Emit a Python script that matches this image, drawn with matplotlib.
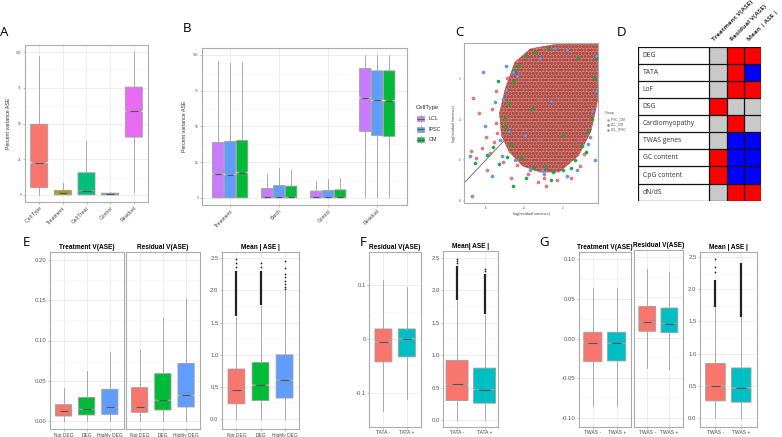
import matplotlib
matplotlib.use("Agg")
import matplotlib.pyplot as plt
from matplotlib.patches import Polygon, Rectangle

W, H = 782, 437
plt.rcParams['font.family'] = ['Liberation Sans', 'DejaVu Sans']

# ---------------- data ----------------
# A: percent variance explained per component
A_cats = ['Cell Type', 'Treatment', 'Cell:Treat', 'Control', 'Residual']
A_q1 = [5, 0, 0, 0, 40.5]
A_med = [22.5, 1, 3, 0.6, 58.5]
A_q3 = [49.5, 3.2, 15.5, 1.2, 75.5]
A_lo = [0, 0, 0, 0, 2]
A_hi = [97.5, 8, 38, 2, 100]
A_colors = ['#F8766D', '#A3A500', '#00BF7D', '#00B0F6', '#E76BF3']

# B: per cell type (rows LCL, IPSC, CM)
B_cats = ['Treatment', 'Batch', 'Control', 'Residual']
B_cells = ['LCL', 'IPSC', 'CM']
B_q1 = [[0, 0, 0, 46.5], [0, 0, 0, 43.5], [0, 0, 0, 43]]
B_med = [[16.7, 0.5, 0.4, 70], [16.3, 0.5, 0.4, 68.3], [17.7, 0.5, 0.4, 68]]
B_q3 = [[38.6, 6.5, 4.7, 90.5], [39.5, 8.6, 5.1, 88.8], [40.2, 8.2, 5.6, 88.8]]
B_lo = [[0, 0, 0, 0.7], [0, 0, 0, 0.7], [0, 0, 0, 0.7]]
B_hi = [[95.5, 16.5, 12, 100], [94.2, 21.2, 13, 100], [95.3, 19.8, 14, 100]]
B_colors = ['#C77CFF', '#619CFF', '#00BA38']

# C: log residual variance scatter; dense core outline + sparse points
C_core_x = [-4.5, -3.7, -2.2, -0.2, -0.2, -0.55, -1.2, -2.2, -3.2, -4.1, -4.8, -5.2, -5.3, -5.0]
C_core_y = [-1.2, -0.55, -0.3, -0.3, -3.1, -4.6, -5.8, -6.6, -6.6, -6.3, -5.6, -4.8, -3.7, -2.5]
C_groups = ['IPSC_CM', 'LCL_CM', 'LCL_IPSC']
C_colors = ['#F8766D', '#00BA38', '#619CFF']
C_red_x = [-6.69, -6.36, -6.79, -6.22, -5.48, -5.71, -4.38, -2.86, -3.81, -4.41, -5.97, -5.45, -5.79,
           -1.6, -0.9, -2.3, -3.3, -5.1, -4.7, -6.0, -3.0, -1.1, -5.5, -4.9, -5.6, -6.5]
C_red_y = [-2.98, -3.72, -5.55, -5.40, -2.62, -3.52, -1.15, -7.26, -6.69, -6.25, -6.50, -4.70, -5.68,
           -6.9, -5.7, -7.0, -7.1, -6.1, -6.9, -4.9, -6.9, -6.3, -4.2, -2.0, -5.1, -5.9]
C_green_x = [-3.43, -5.36, -6.57, -5.97, -4.62, -4.93, -2.86, -5.62, -5.02, -4.84,
             -1.0, -0.7, -1.4, -0.4, -2.0, -3.9, -4.5, -2.6, -0.3, -5.3,
             -4.6, -4.3, -3.9, -5.0, -4.7, -4.2, -3.5, -2.5, -1.6, -0.8, -0.5, -1.2, -2.8, -3.6, -2.0]
C_green_y = [-0.70, -2.13, -6.17, -5.76, -7.26, -5.84, -6.33, -5.35, -4.37, -3.23,
             -5.3, -4.6, -6.0, -2.0, -6.5, -6.9, -1.6, -7.0, -1.0, -6.2,
             -2.2, -1.4, -0.9, -4.0, -5.2, -5.9, -6.4, -6.6, -6.4, -5.6, -4.0, -1.0, -0.5, -3.5, -4.8]
C_blue_x = [-6.14, -4.96, -5.52, -6.05, -6.83, -5.71, -6.71, -3.72, -3.11, -5.17, -4.59, -5.27, -4.94,
            -0.35, -0.7, -0.3, -1.8, -2.4, -0.5,
            -4.4, -5.1, -4.8, -4.5, -3.0, -1.3, -0.6, -0.3, -1.8, -3.2, -2.6, -4.0]
C_blue_y = [-1.71, -1.40, -3.15, -4.32, -5.81, -6.77, -7.77, -6.50, -6.50, -5.81, -1.68, -5.02, -2.57,
            -6.0, -5.2, -0.9, -6.8, -0.5, -3.6,
            -1.9, -3.0, -4.6, -6.0, -6.7, -6.5, -4.9, -2.6, -0.6, -1.0, -3.1, -4.8]

# D: direction of association (1 = positive / red, -1 = negative / blue, 0 = n.s.)
D_rows = ['DEG', 'TATA', 'LoF', 'DSG', 'Cardiomyopathy', 'TWAS genes', 'GC content', 'CpG content', 'dN/dS']
D_cols = ['Treatment V(ASE)', 'Residual V(ASE)', 'Mean | ASE |']
D_vals = [[0, 1, 1], [0, 1, -1], [0, 1, 1], [1, 0, 0], [0, 1, 0],
          [0, -1, -1], [1, -1, -1], [1, -1, -1], [0, 1, 1]]

# E: DEG classes
E_cats = ['Not DEG', 'DEG', 'Highly DEG']
E_colors = ['#F8766D', '#00BA38', '#619CFF']
E_trt_q1 = [0.0062, 0.0075, 0.0083]
E_trt_med = [0.012, 0.0145, 0.017]
E_trt_q3 = [0.0203, 0.0294, 0.0394]
E_trt_hi = [0.0406, 0.062, 0.0853]
E_res_q1 = [0.0108, 0.0137, 0.0174]
E_res_med = [0.0178, 0.0257, 0.0319]
E_res_q3 = [0.0414, 0.0588, 0.0716]
E_res_hi = [0.088, 0.1275, 0.153]
E_mean_q1 = [0.24, 0.29, 0.33]
E_mean_med = [0.45, 0.53, 0.61]
E_mean_q3 = [0.78, 0.88, 1.0]
E_mean_hi = [1.59, 1.76, 1.99]
E_out_lo = [1.6, 1.77, 2.0]
E_out_hi = [2.3, 2.3, 2.0]
E_out_dots = [[2.36, 2.42, 2.49], [2.36, 2.42], [2.02, 2.06, 2.10, 2.15, 2.21, 2.25, 2.35, 2.46]]

# F: TATA box
F_cats = ['TATA -', 'TATA +']
F_res_q1 = [-0.0426, -0.0333]
F_res_med = [-0.0056, 0.0]
F_res_q3 = [0.0185, 0.0185]
F_res_lo = [-0.134, -0.112]
F_res_hi = [0.11, 0.097]
F_mean_q1 = [0.30, 0.26]
F_mean_med = [0.55, 0.47]
F_mean_q3 = [0.92, 0.80]
F_mean_hi = [1.84, 1.62]
F_out_lo = [1.85, 1.63]
F_out_hi = [2.38, 2.25]
F_out_dots = [[2.42, 2.45, 2.48], [2.29, 2.33]]

# G: TWAS genes
G_cats = ['TWAS -', 'TWAS +']
G_trt_q1 = [-0.0289, -0.028]
G_trt_med = [-0.005, -0.0058]
G_trt_q3 = [0.008, 0.008]
G_trt_lo = [-0.084, -0.084]
G_trt_hi = [0.0633, 0.0633]
G_res_q1 = [0.008, 0.0063]
G_res_med = [0.0193, 0.0176]
G_res_q3 = [0.0389, 0.0369]
G_res_lo = [-0.0372, -0.0393]
G_res_hi = [0.085, 0.082]
G_mean_q1 = [0.27, 0.25]
G_mean_med = [0.50, 0.47]
G_mean_q3 = [0.85, 0.78]
G_mean_hi = [1.72, 1.57]
G_out_lo = [1.72, 1.57]
G_out_hi = [2.14, 2.40]
G_out_dots = [[2.27, 2.35, 2.46], []]
TWO = ['#F8766D', '#00BFC4']

fig = plt.figure(figsize=(W / 100, H / 100), dpi=100)


def px_axes(l, t, r, b):
    return fig.add_axes([l / W, 1 - b / H, (r - l) / W, (b - t) / H])


def ftext(x, y, s, **kw):
    fig.text(x / W, 1 - y / H, s, **kw)


def frame(ax, ylim, yticks, ylabels, ysize, xlim, xlabels, xsize, rot=0, grid=True):
    ax.set_xlim(*xlim)
    ax.set_ylim(*ylim)
    ax.set_yticks(yticks)
    ax.set_yticklabels(ylabels, fontsize=ysize, color='#555555')
    ax.set_xticks(range(1, len(xlabels) + 1))
    if rot:
        ax.set_xticklabels(xlabels, fontsize=xsize, color='#444444', rotation=rot,
                           ha='right', rotation_mode='anchor')
    else:
        ax.set_xticklabels(xlabels, fontsize=xsize, color='#444444')
    if grid:
        mids = [(a + b) / 2 for a, b in zip(yticks[:-1], yticks[1:])]
        ax.set_yticks(mids, minor=True)
        ax.grid(True, which='major', color='#E6E6E6', lw=0.5)
        ax.grid(True, which='minor', axis='y', color='#F3F3F3', lw=0.4)
    ax.set_axisbelow(True)
    ax.tick_params(which='major', length=1.5, width=0.4, color='#888888', pad=1)
    ax.tick_params(which='minor', length=0)
    for s in ax.spines.values():
        s.set_color('#ABABAB')
        s.set_linewidth(0.8)


def boxes(ax, pos, q1, med, q3, lo, hi, colors, width):
    stats = []
    for i in range(len(pos)):
        d = (q3[i] - q1[i]) * 0.015
        stats.append(dict(med=med[i], q1=q1[i], q3=q3[i], whislo=lo[i], whishi=hi[i],
                          cilo=med[i] - d, cihi=med[i] + d, fliers=[]))
    bp = ax.bxp(stats, positions=pos, widths=width, capwidths=width * 0.9,
                shownotches=True, showcaps=False, showfliers=False, patch_artist=True,
                boxprops=dict(edgecolor='#9E9E9E', linewidth=0.6),
                whiskerprops=dict(color='#9E9E9E', linewidth=0.6),
                medianprops=dict(color='#555555', linewidth=0.8))
    for patch, c in zip(bp['boxes'], colors):
        patch.set_facecolor(c)


def outliers(ax, lo, hi, dots):
    pos = list(range(1, len(lo) + 1))
    ax.vlines(pos, lo, hi, color='#222222', lw=1.6, zorder=1)
    for p, d in zip(pos, dots):
        ax.scatter([p] * len(d), d, s=1.6, color='#222222', lw=0, zorder=3)


# ---------------- A ----------------
ax = px_axes(25, 45, 148, 202)
boxes(ax, [1, 2, 3, 4, 5], A_q1, A_med, A_q3, A_lo, A_hi, A_colors, 0.72)
frame(ax, (-5, 105), [0, 25, 50, 75, 100], ['0', '25', '50', '75', '100'], 2.3,
      (0.4, 5.6), A_cats, 3.6, rot=45)
ax.set_ylabel('Percent variance ASE', fontsize=3.8, color='#333333', labelpad=4)

# ---------------- B ----------------
ax = px_axes(201.7, 47.7, 406.7, 205)
for k in range(3):
    pos = [c + 1 + (k - 1) * 0.245 for c in range(len(B_cats))]
    boxes(ax, pos, B_q1[k], B_med[k], B_q3[k], B_lo[k], B_hi[k], [B_colors[k]] * 4, 0.23)
frame(ax, (-5, 105), [0, 25, 50, 75, 100], ['0', '25', '50', '75', '100'], 2.3,
      (0.42, 4.6), B_cats, 3.6, rot=45)
ax.set_ylabel('Percent variance ASE', fontsize=3.8, color='#333333', labelpad=4)

# B legend
ftext(416, 107, 'CellType', fontsize=4.3, color='#333333', va='center')
for k, name in enumerate(B_cells):
    yy = 118.7 + k * 10.6
    lax = px_axes(416, yy - 4, 425, yy + 4)
    lax.set_xlim(0, 1)
    lax.set_ylim(0, 1)
    lax.axis('off')
    lax.plot([0.5, 0.5], [0, 1], color='#9E9E9E', lw=0.5)
    lax.add_patch(Rectangle((0.1, 0.2), 0.8, 0.6, facecolor=B_colors[k], edgecolor='#9E9E9E', lw=0.5))
    lax.plot([0.1, 0.9], [0.5, 0.5], color='#555555', lw=0.6)
    ftext(428.5, yy, name, fontsize=3.9, color='#333333', va='center')

# ---------------- C ----------------
ax = px_axes(464, 42.7, 598.3, 203.3)
ax.set_xlim(-7.14, -0.17)
ax.set_ylim(-8.13, -0.25)
ax.plot([-9, 1], [-9, 1], color='#444444', lw=0.5, zorder=1)
ax.add_patch(Polygon(list(zip(C_core_x, C_core_y)), closed=True, facecolor='#EC7B72',
                     edgecolor='#A4544E', hatch='ooooo', lw=0.25, zorder=2))
for xs, ys, c in zip([C_red_x, C_green_x, C_blue_x], [C_red_y, C_green_y, C_blue_y], C_colors):
    ax.scatter(xs, ys, s=5.5, color=c, edgecolor='#555555', lw=0.15, zorder=3)
ax.set_xticks([-6, -4, -2])
ax.set_xticklabels(['-6', '-4', '-2'], fontsize=2.2, color='#555555')
ax.set_yticks([-8, -6, -4, -2])
ax.set_yticklabels(['-8', '-6', '-4', '-2'], fontsize=2.2, color='#555555')
ax.tick_params(length=1, width=0.3, color='#888888', pad=1)
for s in ax.spines.values():
    s.set_color('#ABABAB')
    s.set_linewidth(0.8)
ax.set_xlabel('log(residual variance)', fontsize=2.8, color='#444444', labelpad=1.5)
ax.set_ylabel('log(residual variance)', fontsize=2.8, color='#444444', labelpad=1.5)

ftext(605, 113, 'Group', fontsize=2.6, color='#555555', va='center')
for k, name in enumerate(C_groups):
    yy = 119.7 + k * 5
    fig.add_artist(plt.Line2D([607.5 / W], [1 - yy / H], marker='o', ms=1.6, color=C_colors[k],
                              mec='#555555', mew=0.1, transform=fig.transFigure))
    ftext(610.5, yy, name, fontsize=2.4, color='#555555', va='center')

# ---------------- D ----------------
ax = px_axes(638.3, 46.7, 761, 200.7)
name_w = 71 / 17.2
ax.set_xlim(-name_w, 3)
ax.set_ylim(len(D_rows), 0)
ax.axis('off')
cmap = {1: '#FF0000', -1: '#0000FF', 0: '#C9C9C9'}
for i, row in enumerate(D_vals):
    for j, v in enumerate(row):
        ax.add_patch(Rectangle((j, i), 1, 1, facecolor=cmap[v], edgecolor='none'))
    ax.text(-name_w + 0.25, i + 0.5, D_rows[i], fontsize=4.9, color='#333333', va='center',
            family=['Open Sans', 'DejaVu Sans'])
for i in range(len(D_rows) + 1):
    ax.plot([-name_w, 3], [i, i], color='#111111', lw=0.9, solid_capstyle='projecting')
for x in [-name_w, 0, 1, 2, 3]:
    ax.plot([x, x], [0, len(D_rows)], color='#111111', lw=0.9, solid_capstyle='projecting')
for j, col in enumerate(D_cols):
    ax.text(j + 0.35, -0.25, col, fontsize=4.6, fontweight='bold', color='#333333', rotation=45,
            ha='left', va='bottom', rotation_mode='anchor', family=['Open Sans', 'DejaVu Sans'])

# ---------------- E ----------------
e_ylim = (-0.0103, 0.2103)
e_ticks = [0.0, 0.05, 0.10, 0.15, 0.20]
ax = px_axes(49.7, 251.7, 123.7, 429.3)
boxes(ax, [1, 2, 3], E_trt_q1, E_trt_med, E_trt_q3, [0, 0, 0], E_trt_hi, E_colors, 0.7)
frame(ax, e_ylim, e_ticks, ['0.00', '0.05', '0.10', '0.15', '0.20'], 4.3, (0.4, 3.6), E_cats, 3.5)
ax.set_title('Treatment V(ASE)', fontsize=4.7, fontweight='bold', pad=2)
ax = px_axes(125.7, 251.7, 200, 429.3)
boxes(ax, [1, 2, 3], E_res_q1, E_res_med, E_res_q3, [0, 0, 0], E_res_hi, E_colors, 0.7)
frame(ax, e_ylim, e_ticks, [''] * 5, 4.3, (0.4, 3.6), E_cats, 3.5)
ax.tick_params(axis='y', length=0)
ax.set_title('Residual V(ASE)', fontsize=4.7, fontweight='bold', pad=2)
ax = px_axes(222, 251.7, 299, 429.3)
outliers(ax, E_out_lo, E_out_hi, E_out_dots)
boxes(ax, [1, 2, 3], E_mean_q1, E_mean_med, E_mean_q3, [0, 0, 0], E_mean_hi, E_colors, 0.7)
frame(ax, (-0.155, 2.6), [0, 0.5, 1, 1.5, 2, 2.5], ['0.0', '0.5', '1.0', '1.5', '2.0', '2.5'], 4.3,
      (0.4, 3.6), E_cats, 3.5)
ax.set_title('Mean | ASE |', fontsize=4.7, fontweight='bold', pad=2)

# ---------------- F ----------------
ax = px_axes(369.3, 251.7, 421, 426.7)
boxes(ax, [1, 2], F_res_q1, F_res_med, F_res_q3, F_res_lo, F_res_hi, TWO, 0.72)
frame(ax, (-0.163, 0.162), [-0.1, 0, 0.1], ['-0.1', '0', '0.1'], 4.3, (0.4, 2.6), F_cats, 3.5)
ax.set_title('Residual V(ASE)', fontsize=4.7, fontweight='bold', pad=2)
ax = px_axes(443.3, 250.7, 498.3, 426.7)
outliers(ax, F_out_lo, F_out_hi, F_out_dots)
boxes(ax, [1, 2], F_mean_q1, F_mean_med, F_mean_q3, [0, 0], F_mean_hi, TWO, 0.8)
frame(ax, (-0.103, 2.61), [0, 0.5, 1, 1.5, 2, 2.5], ['0.0', '0.5', '1.0', '1.5', '2.0', '2.5'], 4.3,
      (0.5, 2.5), F_cats, 3.5)
ax.set_title('Mean| ASE |', fontsize=4.7, fontweight='bold', pad=2)

# ---------------- G ----------------
g_ylim = (-0.1105, 0.109)
g_ticks = [-0.10, -0.05, 0.0, 0.05, 0.10]
ax = px_axes(578.5, 251.7, 631, 426.7)
boxes(ax, [1, 2], G_trt_q1, G_trt_med, G_trt_q3, G_trt_lo, G_trt_hi, TWO, 0.76)
frame(ax, g_ylim, g_ticks, ['-0.10', '-0.05', '0.00', '0.05', '0.10'], 4.3, (0.4, 2.6), G_cats, 3.5)
ax.set_title('Treatment V(ASE)', fontsize=4.7, fontweight='bold', pad=2)
ax = px_axes(634, 250, 682.7, 426.7)
boxes(ax, [1, 2], G_res_q1, G_res_med, G_res_q3, G_res_lo, G_res_hi, TWO, 0.76)
frame(ax, g_ylim, g_ticks, [''] * 5, 4.3, (0.4, 2.6), G_cats, 3.5)
ax.tick_params(axis='y', length=0)
ax.set_title('Residual V(ASE)', fontsize=4.7, fontweight='bold', pad=2)
ax = px_axes(700, 251.7, 756.7, 426.7)
outliers(ax, G_out_lo, G_out_hi, G_out_dots)
boxes(ax, [1, 2], G_mean_q1, G_mean_med, G_mean_q3, [0, 0], G_mean_hi, TWO, 0.76)
frame(ax, (-0.13, 2.58), [0, 0.5, 1, 1.5, 2, 2.5], ['0.0', '0.5', '1.0', '1.5', '2.0', '2.5'], 4.3,
      (0.4, 2.6), G_cats, 3.5)
ax.set_title('Mean | ASE |', fontsize=4.7, fontweight='bold', pad=2)

# ---------------- panel letters ----------------
for letter, x, y in [('A', 4, 33), ('B', 186.5, 28), ('C', 459, 32), ('D', 622, 32),
                     ('E', 26, 242), ('F', 363, 242), ('G', 544, 242)]:
    ftext(x, y, letter, fontsize=9.5, ha='center', va='center', family=['Open Sans', 'DejaVu Sans'])

fig.savefig('out.png', dpi=100)
